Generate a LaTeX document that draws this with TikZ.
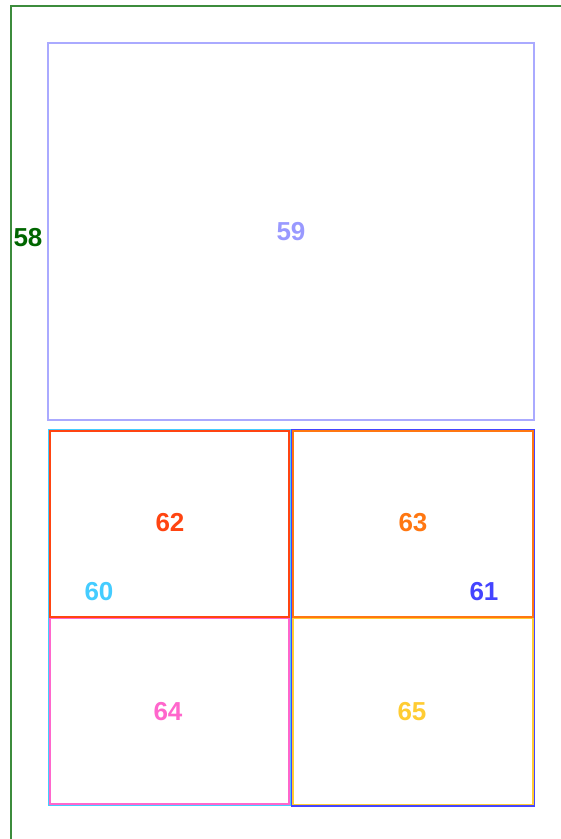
\documentclass[tikz,border=0pt]{standalone}
\usepackage{fontspec}
\setmainfont{Liberation Sans}
\definecolor{cgreen}{HTML}{3C8C3C}
\definecolor{cgreent}{HTML}{006600}
\definecolor{clav}{HTML}{AAAAFF}
\definecolor{clavt}{HTML}{9999FF}
\definecolor{ccyan}{HTML}{44CCFF}
\definecolor{cblue}{HTML}{4444FF}
\definecolor{cred}{HTML}{FF4411}
\definecolor{corange}{HTML}{FF7711}
\definecolor{cpink}{HTML}{FF66CC}
\definecolor{cyellow}{HTML}{FFCC33}
\tikzset{
  box/.style={draw, line width=1.5pt},
  lbl/.style={font=\fontsize{26}{30}\selectfont\bfseries, inner sep=0pt},
}
\begin{document}
\begin{tikzpicture}[x=1pt,y=-1pt]
\useasboundingbox (0,0) rectangle (561,839);
% outer container 58
\draw[cgreen, line width=2pt] (11,845) -- (11,6) -- (570,6);
\node[lbl, text=cgreent] (n58) at (28,238) {58};
% box 59
\draw[box, clav] (48,43) rectangle (534,420);
\node[lbl, text=clavt] (n59) at (291,232) {59};
% box 60 and 61
\draw[box, ccyan] (48.3,429.3) rectangle (290.2,805.5);
\draw[box, cblue] (291.5,429.3) rectangle (534,806);
% inner boxes
\draw[box, cred] (49.8,430.8) rectangle (288.8,617);
\draw[box, cpink] (49.8,618.5) rectangle (288.8,804);
\draw[box, corange] (292.8,430.8) rectangle (532.8,617);
\draw[box, cyellow] (292.8,618.5) rectangle (532.8,804.3);
\node[lbl, text=cred] (n62) at (170,523) {62};
\node[lbl, text=ccyan] (n60) at (99,592) {60};
\node[lbl, text=corange] (n63) at (413,523) {63};
\node[lbl, text=cblue] (n61) at (484,592) {61};
\node[lbl, text=cpink] (n64) at (168,712) {64};
\node[lbl, text=cyellow] (n65) at (412,712) {65};
\end{tikzpicture}
\end{document}
